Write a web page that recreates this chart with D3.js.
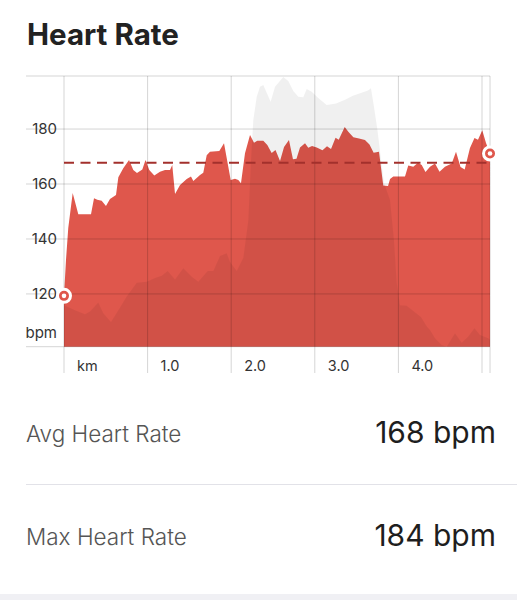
<!DOCTYPE html>
<html>
<head>
<meta charset="utf-8">
<script src="https://cdn.jsdelivr.net/npm/d3@7"></script>
<style>
  body { margin: 0; background: #fff; font-family: Inter, "Noto Sans", sans-serif; }
  svg { display: block; }
</style>
</head>
<body>
<svg id="main" width="517" height="600"></svg>
<script>
// heart rate samples: distance (km) / bpm
var hrKm = [0.00,0.024,0.051,0.104,0.171,0.323,0.359,0.398,0.451,0.502,0.550,0.622,0.650,0.709,0.778,0.829,0.873,0.937,0.975,1.020,
  1.080,1.148,1.208,1.268,1.295,1.328,1.388,1.468,1.519,1.547,1.627,1.666,1.707,1.746,1.858,1.914,1.994,2.045,2.085,2.117,
  2.165,2.225,2.273,2.312,2.384,2.432,2.484,2.530,2.584,2.632,2.691,2.739,2.781,2.823,2.883,2.922,2.967,3.023,3.092,3.146,
  3.194,3.248,3.286,3.358,3.401,3.461,3.529,3.600,3.654,3.704,3.768,3.819,3.876,3.900,3.939,4.079,4.118,4.178,4.234,4.279,
  4.324,4.378,4.438,4.492,4.557,4.638,4.689,4.743,4.793,4.856,4.910,4.952,5.003,5.048,5.096];
var hrBpm = [119.3,132.4,144,156.7,149,149,154.8,154.3,153.9,152,154.5,156,162.5,165.7,168.7,165.1,164,165.3,168.7,165.1,
  163.1,164.5,165.1,165.1,166.9,156.4,159.6,161.8,162.7,161.1,163.3,164.1,170.5,171.7,172,174.8,161.5,161.9,161.5,160.3,
  171.2,177.8,175,175.7,175.7,174.2,171.3,172.4,168.4,173.5,176,169,169.2,173.3,174.8,173.2,173.8,173.3,172.3,173.7,
  172.7,176.8,176.1,180.7,179,177,176.6,176,174.4,171.4,171.7,159.5,159.3,161.8,162.7,162.7,166.7,166.3,167.7,166.9,
  164.4,166.3,167.5,164.5,166.3,167.5,171.7,166.2,165.3,173.1,176.7,176.1,179.6,174.9,171.1];

// elevation profile drawn behind: distance (km) / metres
var elevKm = [0.00,0.132,0.251,0.311,0.410,0.470,0.562,0.650,0.750,0.870,0.989,1.089,1.169,1.240,1.328,1.427,1.528,1.607,1.719,1.786,
  1.866,1.946,1.986,2.066,2.145,2.205,2.237,2.264,2.305,2.344,2.384,2.472,2.524,2.623,2.683,2.743,2.803,2.862,2.903,2.963,
  3.042,3.142,3.254,3.367,3.455,3.541,3.636,3.672,3.708,3.750,3.786,3.828,3.900,3.947,3.980,4.019,4.099,4.178,4.270,4.342,
  4.378,4.438,4.518,4.578,4.677,4.757,4.833,4.910,4.976,5.075,5.096];
var elevM = [29.2,28.1,27.2,27.8,29.8,27.4,25.5,28.1,31.1,34.2,34.4,35.2,35.7,36.8,34.9,37.4,35.5,34.4,36.8,36.8,
  40.1,40.7,38.8,36.8,39.7,48.1,61.4,70.2,75.4,77.6,78.0,74.3,77.6,79.8,78.9,76.7,75.4,75.3,77.1,76.5,
  75.1,73.6,73.9,74.8,75.6,76.2,76.8,77.3,73.2,68.0,62.5,56.3,52.5,43.6,34.1,29.2,29.1,27.9,26.6,24.4,
  23.7,21.9,20.4,20.0,23.0,20.9,22.2,24.1,22.6,21.9,21.5];

var yTicks = [120, 140, 160, 180];
var xTicks = [0, 1, 2, 3, 4, 5];
var xTickLabels = ["km", "1.0", "2.0", "3.0", "4.0", ""];
var avgLine = 167.7;
var stats = [["Avg Heart Rate", "168 bpm"], ["Max Heart Rate", "184 bpm"]];

var svg = d3.select("svg#main");
var gridLeft = 26, plotLeft = 64, plotRight = 490, plotTop = 76, plotBottom = 346.7;

var x = d3.scaleLinear().domain([0, 5]).range([plotLeft, 482]);
var y = d3.scaleLinear().domain([100.8, 199.3]).range([plotBottom, plotTop]);
var yElev = d3.scaleLinear().domain([20, 80]).range([plotBottom, plotTop]);

var hr = hrKm.map((k, i) => ({km: k, v: hrBpm[i]}));
var elev = elevKm.map((k, i) => ({km: k, v: elevM[i]}));

svg.append("text")
    .attr("x", 27).attr("y", 45)
    .attr("font-size", 29.5).attr("font-weight", 700)
    .attr("fill", "#222")
    .text("Heart Rate");

var red = "#df574c";

svg.append("path")
    .datum(hr)
    .attr("fill", red)
    .attr("d", d3.area().x(d => x(d.km)).y0(plotBottom).y1(d => y(d.v)));

svg.append("path")
    .datum(elev)
    .attr("fill", "#000")
    .attr("fill-opacity", 0.06)
    .attr("d", d3.area().x(d => x(d.km)).y0(plotBottom).y1(d => yElev(d.v)));

// grid on top of the areas
var grid = svg.append("g").attr("stroke", "#000").attr("stroke-opacity", 0.17).attr("stroke-width", 1);
grid.selectAll(".h")
    .data(yTicks.concat([y.domain()[1], y.domain()[0]]))
    .enter().append("line")
    .attr("x1", gridLeft).attr("x2", plotRight)
    .attr("y1", d => y(d)).attr("y2", d => y(d));
grid.selectAll(".v")
    .data(xTicks.map(x).concat([x(hrKm[hrKm.length - 1])]))
    .enter().append("line")
    .attr("x1", d => d).attr("x2", d => d)
    .attr("y1", plotTop).attr("y2", 373);

svg.append("line")
    .attr("x1", plotLeft).attr("x2", x(hrKm[hrKm.length - 1]))
    .attr("y1", y(avgLine)).attr("y2", y(avgLine))
    .attr("stroke", "#a3302c").attr("stroke-width", 2)
    .attr("stroke-dasharray", "10,6.5");

svg.selectAll(".ylab")
    .data(yTicks)
    .enter().append("text")
    .attr("x", 57).attr("y", d => y(d)).attr("dy", "0.36em")
    .attr("text-anchor", "end").attr("font-size", 15).attr("fill", "#333")
    .text(d => d);

svg.append("text")
    .attr("x", 57).attr("y", 333).attr("dy", "0.36em")
    .attr("text-anchor", "end").attr("font-size", 15).attr("fill", "#333")
    .text("bpm");

svg.selectAll(".xlab")
    .data(xTicks)
    .enter().append("text")
    .attr("x", d => x(d) + 13).attr("y", 371)
    .attr("font-size", 14.5).attr("fill", "#333")
    .text((d, i) => xTickLabels[i]);

// start / end markers
[hr[0], hr[hr.length - 1]].forEach(function(d) {
    svg.append("circle")
        .attr("cx", x(d.km)).attr("cy", y(d.v)).attr("r", 6.5)
        .attr("fill", red).attr("stroke", "#fff").attr("stroke-width", 3);
    svg.append("circle")
        .attr("cx", x(d.km)).attr("cy", y(d.v)).attr("r", 2.3)
        .attr("fill", "#fff");
});

// stats rows
stats.forEach(function(s, i) {
    var base = 442 + i * 103;
    svg.append("text")
        .attr("x", 26).attr("y", base)
        .attr("font-size", 22.5).attr("font-weight", 300).attr("fill", "#555")
        .text(s[0]);
    svg.append("text")
        .attr("x", 496).attr("y", base + 1)
        .attr("text-anchor", "end")
        .attr("font-size", 30).attr("font-weight", 400).attr("fill", "#1e1e1e")
        .text(s[1]);
});

svg.append("line")
    .attr("x1", 26).attr("x2", 517).attr("y1", 484.5).attr("y2", 484.5)
    .attr("stroke", "#e2e2e8").attr("stroke-width", 1);

svg.append("rect")
    .attr("x", 0).attr("y", 594).attr("width", 517).attr("height", 6)
    .attr("fill", "#f0f0f4");
</script>
</body>
</html>
